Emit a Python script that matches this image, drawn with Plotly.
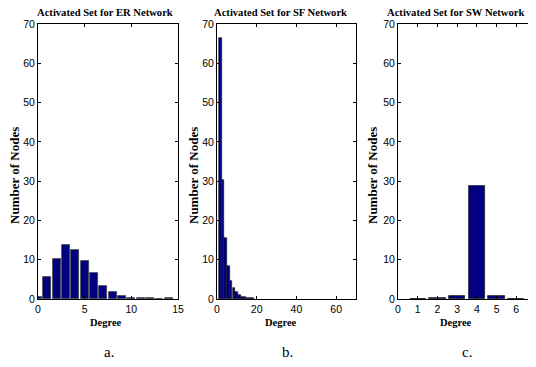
import plotly.graph_objects as go

# ER network histogram
er_degree = [0, 1, 2, 3, 4, 5, 6, 7, 8, 9, 10, 11, 12, 13, 14]
er_count = [0.5, 5.5, 10.3, 13.8, 12.5, 9.7, 6.6, 3.4, 1.8, 0.7, 0.35, 0.2, 0.2, 0.05, 0.2]

# SF network histogram (bin centres)
sf_degree = [1.7, 3.0, 4.4, 5.8, 7.1, 8.5, 9.8, 11.2, 12.6, 13.9, 15.3, 16.6, 18.0]
sf_count = [66.5, 30.3, 15.6, 8.3, 4.7, 2.8, 1.7, 1.0, 0.6, 0.4, 0.3, 0.25, 0.2]

# SW network histogram
sw_degree = [1, 2, 3, 4, 5, 6]
sw_count = [0.05, 0.3, 0.8, 28.7, 0.8, 0.05]

titles = ["Activated Set for ER Network", "Activated Set for SF Network", "Activated Set for SW Network"]
panel_labels = ["a.", "b.", "c."]
y_ticks = [0, 10, 20, 30, 40, 50, 60, 70]
er_xticks = [0, 5, 10, 15]
sf_xticks = [0, 20, 40, 60]
sw_xticks = [0, 1, 2, 3, 4, 5, 6, 7]

W, H = 536, 367
OFF = 8  # page body margin
BAR = "rgb(0,0,128)"


def fx(p):
    return (p - OFF) / W


def fy(p):
    return 1 - (p - OFF) / H


fig = go.Figure()
fig.add_trace(go.Bar(x=er_degree, y=er_count, width=0.85, marker=dict(color=BAR, line=dict(color="#444", width=0.8)), xaxis="x", yaxis="y"))
fig.add_trace(go.Bar(x=sf_degree, y=sf_count, width=1.36, marker=dict(color=BAR, line=dict(color="#111", width=0.6)), xaxis="x2", yaxis="y2"))
fig.add_trace(go.Bar(x=sw_degree, y=sw_count, width=0.82, marker=dict(color=BAR, line=dict(color="#222", width=0.8)), xaxis="x3", yaxis="y3"))

px = [(38, 178), (217, 356), (398, 536)]
ydom = [fy(299), fy(24)]
tickfont = dict(family="Liberation Sans, Arial, sans-serif", size=10.5, color="black")

axcommon = dict(showgrid=False, zeroline=False, showline=True, linecolor="black", linewidth=1,
                mirror="ticks", ticks="inside", ticklen=3, tickcolor="black", tickfont=tickfont,
                automargin=False)

layout = dict(width=W, height=H, margin=dict(l=0, r=0, t=0, b=0, pad=0), plot_bgcolor="white",
              paper_bgcolor="white", showlegend=False, bargap=0)
xr = [[0, 15], [0, 70], [0, 7]]
xt = [er_xticks, sf_xticks, sw_xticks]
for i in range(3):
    sfx = "" if i == 0 else str(i + 1)
    layout["xaxis" + sfx] = dict(domain=[fx(px[i][0]), fx(px[i][1])], range=xr[i], tickvals=xt[i],
                                 anchor="y" + sfx, **axcommon)
    layout["yaxis" + sfx] = dict(domain=ydom, range=[0, 70], tickvals=y_ticks,
                                 anchor="x" + sfx, **axcommon)
fig.update_layout(**layout)

serif = "Liberation Serif, Times New Roman, serif"
title_x = [105, 280, 455]
ylab_x = [14, 193, 372]
lab_x = [109, 287, 467]
for i in range(3):
    fig.add_annotation(text="<b>" + titles[i] + "</b>", x=fx(title_x[i]), y=fy(12), xref="paper", yref="paper",
                       showarrow=False, font=dict(family=serif, size=10.6, color="black"), xanchor="center", yanchor="middle")
    fig.add_annotation(text="<b>Degree</b>", x=fx(title_x[i] + 1), y=fy(322), xref="paper", yref="paper",
                       showarrow=False, font=dict(family=serif, size=10.5, color="black"), xanchor="center", yanchor="middle")
    fig.add_annotation(text="<b>Number of Nodes</b>", x=fx(ylab_x[i]), y=fy(176), xref="paper", yref="paper",
                       showarrow=False, textangle=-90, font=dict(family=serif, size=13, color="black"),
                       xanchor="center", yanchor="middle")
    fig.add_annotation(text=panel_labels[i], x=fx(lab_x[i]), y=fy(352), xref="paper", yref="paper",
                       showarrow=False, font=dict(family=serif, size=15, color="black"), xanchor="center", yanchor="middle")

fig.write_html("out.html")
